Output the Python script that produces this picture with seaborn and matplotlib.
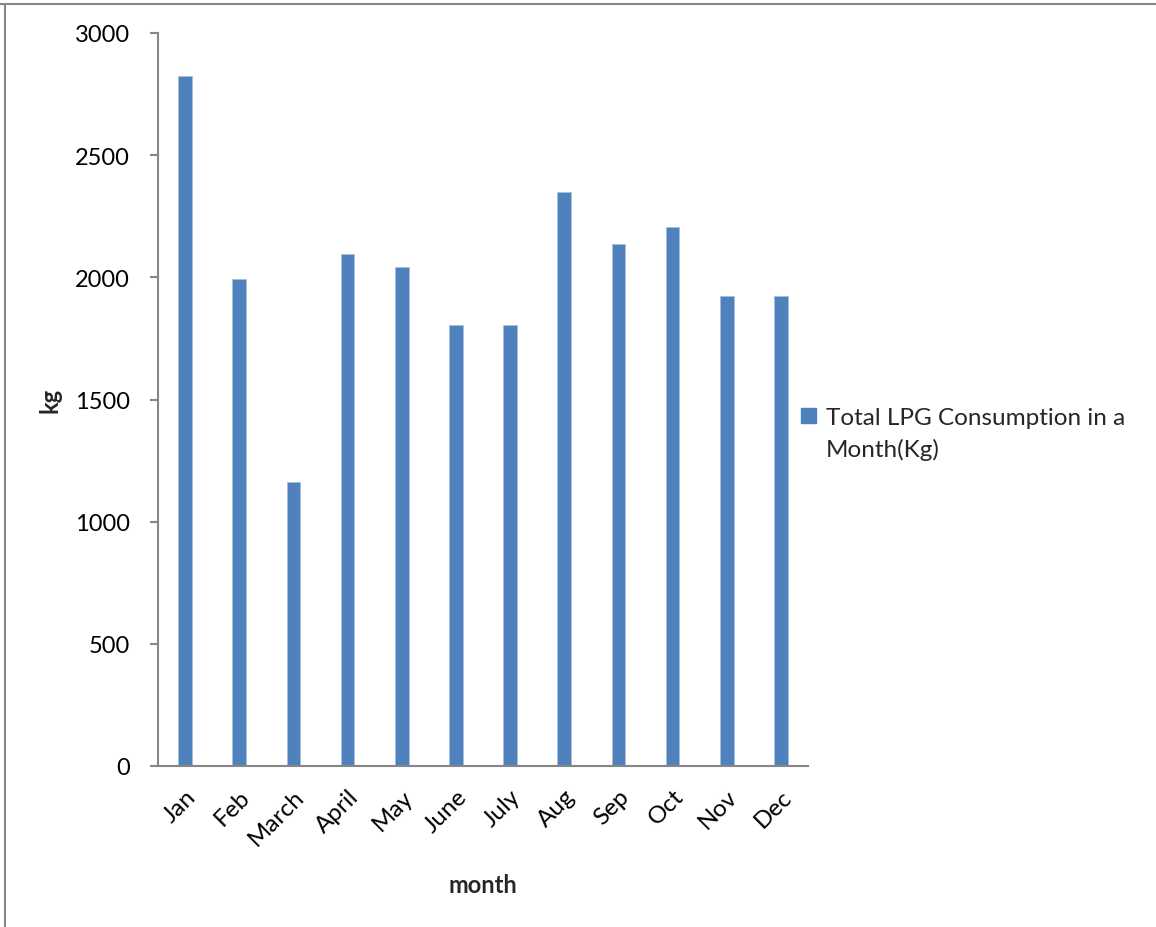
import matplotlib
matplotlib.use("Agg")
import matplotlib.pyplot as plt
from matplotlib.lines import Line2D
from matplotlib.patches import Patch, Rectangle
from matplotlib.legend_handler import HandlerPatch
import seaborn as sns
import pandas as pd

months = ["Jan", "Feb", "March", "April", "May", "June", "July", "Aug", "Sep", "Oct", "Nov", "Dec"]
consumption = [2823, 1992, 1162, 2097, 2042, 1805, 1805, 2348, 2135, 2206, 1924, 1924]
series_name = "Total LPG Consumption in a\nMonth(Kg)"
y_ticks = [0, 500, 1000, 1500, 2000, 2500, 3000]

sns.set_theme(style="white")
plt.rcParams["font.family"] = ["Lato", "DejaVu Sans"]

df = pd.DataFrame({"month": months, "kg": consumption})

W, H = 1156, 928
fig = plt.figure(figsize=(W / 100, H / 100), dpi=100)
ax = fig.add_axes([158 / W, 1 - 767 / H, (808 - 158) / W, (767 - 34) / H])

bar_color = "#4F81BD"
sns.barplot(data=df, x="month", y="kg", color=bar_color, width=0.25,
            saturation=1, ax=ax, edgecolor="#A7BFDE", linewidth=0.6)

ax.set_ylim(0, 3000)
ax.set_xlim(-0.5, len(months) - 0.5)
ax.set_yticks(y_ticks)
ax.set_yticklabels([str(t) for t in y_ticks], fontsize=17)
ax.set_xticks(range(len(months)))
ax.set_xticklabels(months, fontsize=17.5, rotation=45, ha="right", rotation_mode="anchor")

for s in ["top", "right"]:
    ax.spines[s].set_visible(False)
for s in ["left", "bottom"]:
    ax.spines[s].set_color("#868686")
    ax.spines[s].set_linewidth(1.5)

ax.tick_params(axis="y", which="major", direction="out", length=6, width=1.5,
               color="#868686", left=True, pad=14, labelcolor="black")
ax.tick_params(axis="x", which="major", length=0, pad=14, labelcolor="black")

ax.set_xlabel("month", fontsize=17, fontweight="bold", labelpad=17)
ax.set_ylabel("kg", fontsize=17, fontweight="bold", labelpad=10)


def shifted_square(legend, orig_handle, xdescent, ydescent, width, height, fontsize):
    size = 11
    return Rectangle((-xdescent + (width - size) / 2, -ydescent + 14), size, size)


handle = Patch(facecolor=bar_color, edgecolor=bar_color)
fig.legend([handle], [series_name], loc="upper left",
           bbox_to_anchor=(799 / W, 1 - 408 / H), frameon=False,
           fontsize=17.5, handlelength=0.8, handleheight=0.8,
           handletextpad=0.3, borderpad=0, borderaxespad=0,
           handler_map={Patch: HandlerPatch(patch_func=shifted_square)})
for t in fig.legends[0].get_texts():
    t.set_linespacing(1.55)

# outer frame lines (top and left)
fig.add_artist(Line2D([0, 1], [1 - 4.5 / H, 1 - 4.5 / H], transform=fig.transFigure,
                      color="#868686", linewidth=1.5))
fig.add_artist(Line2D([5 / W, 5 / W], [0, 1 - 4.5 / H], transform=fig.transFigure,
                      color="#868686", linewidth=1.5))

fig.savefig("out.png", dpi=100, facecolor="white")
